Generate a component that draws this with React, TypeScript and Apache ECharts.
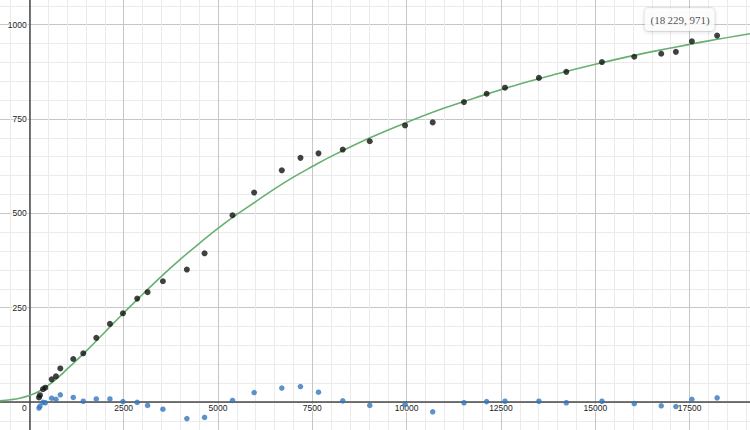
import React, { useEffect, useRef } from "react";
import * as echarts from "echarts";

// Fitted curve
const curveX = [-800, -500, -250, 0, 250, 500, 750, 1000, 1500, 2000, 2500, 3000, 3500, 4000, 4500, 5000, 5500, 6000, 6500, 7000, 7500, 8000, 9000, 10000, 11000, 12000, 13000, 14000, 15000, 16000, 17000, 18000, 19100];
const curveY = [3, 6, 10, 17, 28, 44, 64, 87, 134, 185, 236, 285, 333, 378, 420, 460, 497, 531, 565, 596, 624, 651, 699, 741, 779, 812, 843, 870, 895, 918, 938, 957, 976];

// Data points (x shared by both point sets)
const pointX = [257, 283, 363, 424, 593, 707, 822, 1165, 1430, 1775, 2137, 2481, 2860, 3135, 3541, 4176, 4645, 5386, 5959, 6692, 7187, 7664, 8308, 9023, 9958, 10691, 11520, 12121, 12607, 13506, 14232, 15177, 16033, 16748, 17136, 17560, 18229];
const observedY = [12, 18, 34, 38, 60, 68, 89, 114, 129, 170, 207, 235, 274, 291, 320, 351, 394, 495, 555, 614, 647, 659, 669, 691, 733, 741, 795, 817, 833, 859, 875, 901, 915, 923, 928, 956, 971];
const residualY = [-16, -11, -1, -2, 10, 7, 19, 12, 2, 8, 8, 1, -1, -9, -19, -44, -41, 4, 25, 37, 41, 26, 3, -9, -6, -26, -2, 1, 2, 2, -2, 2, -4, -10, -12, 7, 11];

// Axis tick settings
const xMin = -2500, xMax = 20000, xStep = 2500;
const yMin = -250, yMax = 1250, yStep = 250;
// Range of tick labels that fall inside the visible window
const xLabelRange = [2500, 17500];
const yLabelRange = [250, 1000];
const labelledIndex = pointX.length - 1;

const fmtNum = (v: number) => {
  const s = String(Math.round(v));
  return s.length > 4 ? s.replace(/\B(?=(\d{3})+(?!\d))/g, "\u2009") : s;
};

export default function App() {
  const ref = useRef<HTMLDivElement>(null);
  useEffect(() => {
    if (!ref.current) return;
    const chart = echarts.init(ref.current, undefined, { renderer: "svg" });
    const labelBase = {
      fontSize: 8.5,
      color: "#222",
      fontFamily: "Liberation Sans, Arial, sans-serif",
      textBorderColor: "#fff",
      textBorderWidth: 2,
    };
    const axisCommon = {
      type: "value" as const,
      axisLine: { onZero: true, lineStyle: { color: "#4a4a4a", width: 1.5 } },
      axisTick: { show: false },
      splitLine: { show: true, lineStyle: { color: "#c6c6c6", width: 1 } },
      minorTick: { show: false, splitNumber: 5 },
      minorSplitLine: { show: true, lineStyle: { color: "#ebebeb", width: 1 } },
    };
    const blackData = pointX.map((x, i) => {
      const item: any = { value: [x, observedY[i]] };
      if (i === labelledIndex) {
        item.label = {
          show: true,
          position: [-69.5, -24.5],
          align: "left",
          verticalAlign: "top",
          formatter: (p: any) => `(${fmtNum(p.value[0])}, ${fmtNum(p.value[1])})`,
          fontFamily: "Liberation Serif, Times New Roman, serif",
          fontSize: 11,
          lineHeight: 13,
          color: "#222",
          backgroundColor: "#fff",
          borderColor: "rgba(0,0,0,0.1)",
          borderWidth: 1,
          borderRadius: 4,
          padding: [5, 5, 5, 6],
          shadowBlur: 4,
          shadowColor: "rgba(0,0,0,0.16)",
          shadowOffsetY: 1,
        };
      }
      return item;
    });
    chart.setOption({
      animation: false,
      backgroundColor: "#fff",
      grid: {
        left: -65.03,
        right: -33.94,
        top: -69.65,
        bottom: -66.33,
        containLabel: false,
        outerBoundsMode: "none",
      },
      xAxis: {
        ...axisCommon,
        min: xMin,
        max: xMax,
        interval: xStep,
        axisLabel: {
          ...labelBase,
          margin: -92.8,
          formatter: (v: number) => (v >= xLabelRange[0] && v <= xLabelRange[1] ? String(v) : ""),
        },
      },
      yAxis: {
        ...axisCommon,
        min: yMin,
        max: yMax,
        interval: yStep,
        axisLabel: {
          ...labelBase,
          margin: -91.7,
          formatter: (v: number) => (v >= yLabelRange[0] && v <= yLabelRange[1] ? String(v) : ""),
        },
      },
      graphic: [
        {
          type: "text",
          x: 26.7,
          y: 408.3,
          style: {
            text: "0",
            fill: "#222",
            font: "8.5px Liberation Sans, Arial, sans-serif",
            align: "right",
            verticalAlign: "middle",
            stroke: "#fff",
            lineWidth: 2,
          },
          z: 10,
        },
      ],
      series: [
        {
          type: "line",
          data: curveX.map((x, i) => [x, curveY[i]]),
          smooth: 0.4,
          showSymbol: false,
          lineStyle: { color: "#66b070", width: 1.6 },
          silent: true,
          z: 2,
        },
        {
          type: "scatter",
          data: pointX.map((x, i) => [x, residualY[i]]),
          symbolSize: 5.5,
          itemStyle: { color: "#3377bd" },
          z: 3,
        },
        {
          type: "scatter",
          data: blackData,
          symbolSize: 6,
          itemStyle: { color: "#111" },
          z: 4,
        },
      ],
    });
    return () => chart.dispose();
  }, []);
  return (
    <div
      ref={ref}
      style={{ position: "fixed", left: 0, top: 0, width: 750, height: 430, overflow: "hidden" }}
    />
  );
}
